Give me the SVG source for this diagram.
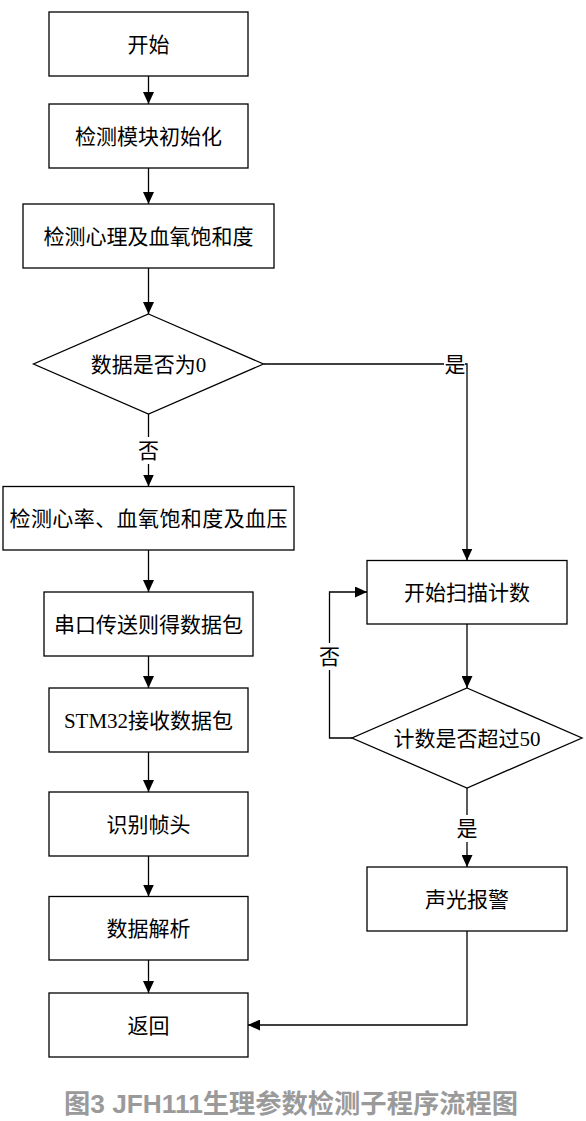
<svg xmlns="http://www.w3.org/2000/svg" width="586" height="1121" viewBox="0 0 586 1121">
<style>
.n rect, .n polygon { fill: #fff; stroke: #000; stroke-width: 1.3; }
.t { font-family: "Liberation Serif", "Noto Sans CJK SC", serif; font-size: 21px; fill: #000; text-anchor: middle; }
.c line, .c polyline { fill: none; stroke: #000; stroke-width: 1.3; }
.lb { fill: #fff; stroke: none; }
.cap { font-family: "Liberation Sans", "Noto Sans CJK SC", sans-serif; font-size: 26px; font-weight: bold; fill: #9a9a9a; text-anchor: middle; }
</style>
<defs>
<marker id="ah" markerUnits="userSpaceOnUse" markerWidth="12" markerHeight="11" refX="12" refY="5.5" orient="auto">
<path d="M0,0 L12,5.5 L0,11 z" fill="#000"/>
</marker>
</defs>
<rect width="586" height="1121" fill="#fff"/>
<g id="connectors" class="c">
<line x1="148.5" y1="76" x2="148.5" y2="104" marker-end="url(#ah)"/>
<line x1="148.5" y1="168" x2="148.5" y2="204" marker-end="url(#ah)"/>
<line x1="148.5" y1="268" x2="148.5" y2="314" marker-end="url(#ah)"/>
<line x1="148.5" y1="414" x2="148.5" y2="486.5" marker-end="url(#ah)"/>
<polyline points="263.5,364 467,364 467,560.5" marker-end="url(#ah)"/>
<line x1="148.5" y1="550" x2="148.5" y2="592" marker-end="url(#ah)"/>
<line x1="148.5" y1="656" x2="148.5" y2="688" marker-end="url(#ah)"/>
<line x1="148.5" y1="752" x2="148.5" y2="792" marker-end="url(#ah)"/>
<line x1="148.5" y1="856" x2="148.5" y2="896.5" marker-end="url(#ah)"/>
<line x1="148.5" y1="960" x2="148.5" y2="993" marker-end="url(#ah)"/>
<line x1="467" y1="624" x2="467" y2="688" marker-end="url(#ah)"/>
<polyline points="352,738 329.5,738 329.5,592 367,592" marker-end="url(#ah)"/>
<line x1="467" y1="788" x2="467" y2="867" marker-end="url(#ah)"/>
<polyline points="467,931 467,1025 248,1025" marker-end="url(#ah)"/>
<rect class="lb" x="137" y="437" width="23" height="27"/>
<text class="t" x="148.5" y="458">否</text>
<rect class="lb" x="444" y="351" width="21" height="26"/>
<text class="t" x="455" y="372">是</text>
<rect class="lb" x="318" y="643" width="23" height="27"/>
<text class="t" x="329.5" y="664">否</text>
<rect class="lb" x="455.5" y="815" width="23" height="27"/>
<text class="t" x="467" y="836">是</text>
</g>
<g id="start" class="n"><rect x="49" y="12" width="199" height="64"/><text class="t" x="148.5" y="52">开始</text></g>
<g id="init" class="n"><rect x="49" y="104" width="199" height="64"/><text class="t" x="148.5" y="144">检测模块初始化</text></g>
<g id="detect1" class="n"><rect x="23" y="204" width="251" height="64"/><text class="t" x="148.5" y="244">检测心理及血氧饱和度</text></g>
<g id="check0" class="n"><polygon points="148.5,314 263.5,364 148.5,414 33.5,364"/><text class="t" x="148.5" y="372">数据是否为0</text></g>
<g id="detect2" class="n"><rect x="3" y="486.5" width="291" height="63.5"/><text class="t" x="148.5" y="526" textLength="278" lengthAdjust="spacing">检测心率、血氧饱和度及血压</text></g>
<g id="serial" class="n"><rect x="44" y="592" width="209" height="64"/><text class="t" x="148.5" y="632">串口传送则得数据包</text></g>
<g id="stm32" class="n"><rect x="49" y="688" width="199" height="64"/><text class="t" x="148.5" y="728">STM32接收数据包</text></g>
<g id="frame" class="n"><rect x="49" y="792" width="199" height="64"/><text class="t" x="148.5" y="832">识别帧头</text></g>
<g id="parse" class="n"><rect x="49" y="896.5" width="199" height="63.5"/><text class="t" x="148.5" y="936">数据解析</text></g>
<g id="return" class="n"><rect x="49" y="993" width="199" height="64"/><text class="t" x="148.5" y="1033">返回</text></g>
<g id="scan" class="n"><rect x="367" y="560.5" width="200" height="63.5"/><text class="t" x="467" y="600">开始扫描计数</text></g>
<g id="check50" class="n"><polygon points="467,688 582,738 467,788 352,738"/><text class="t" x="467" y="746">计数是否超过50</text></g>
<g id="alarm" class="n"><rect x="367" y="867" width="200" height="64"/><text class="t" x="467" y="907">声光报警</text></g>
<text class="cap" x="291" y="1113" textLength="454" lengthAdjust="spacingAndGlyphs">图3 JFH111生理参数检测子程序流程图</text>
</svg>
